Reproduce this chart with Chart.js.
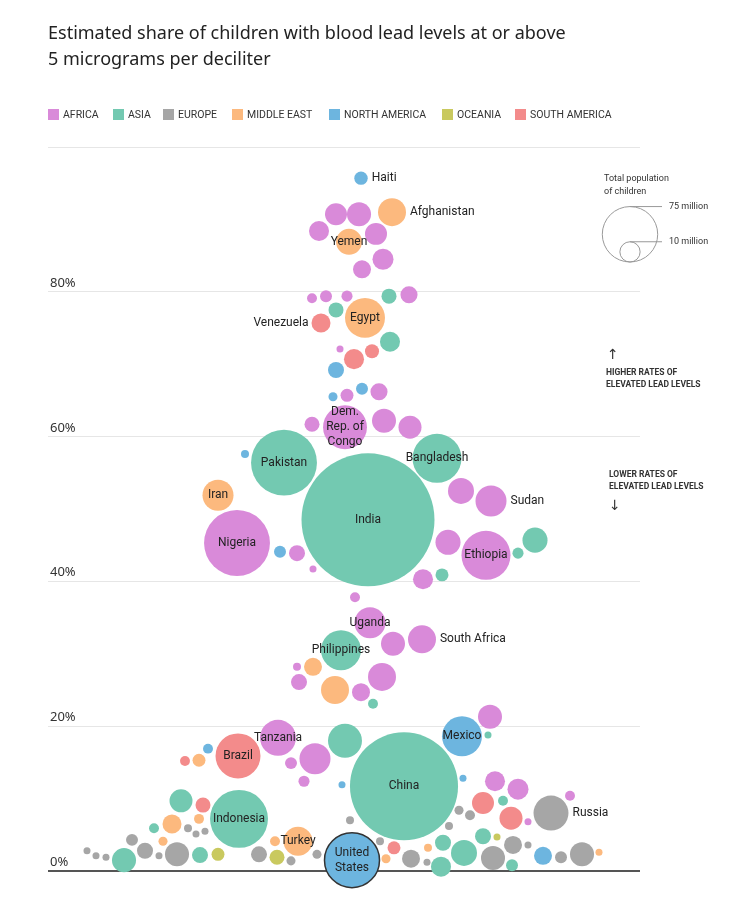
<!DOCTYPE html>
<html>
<head>
<meta charset="utf-8">
<script src="https://cdn.jsdelivr.net/npm/chart.js@4"></script>
<style>
  body { margin: 0; background: #fff; }
  canvas { display: block; }
</style>
</head>
<body>
<canvas id="leadChart" width="750" height="902"></canvas>
<script>
// each row: [country label ('' = unlabelled), swarm offset, share of children >= 5 ug/dL (%), children (millions)]
const africa = [
  ['', -32, 90.7, 11.8], ['', -9, 90.7, 14.1], ['', -49, 88.4, 9.8], ['', 8, 88.0, 11.8],
  ['', 15, 84.5, 10.8], ['', -6, 83.1, 7.9], ['', -56, 79.1, 2.4], ['', -42, 79.4, 3.5],
  ['', -21, 79.4, 3.0], ['', 41, 79.6, 7.1], ['', -28, 72.1, 1.2], ['', -21, 65.7, 4.1],
  ['', 11, 66.2, 7.1], ['', -56, 61.7, 5.5], ['Dem. Rep. of Congo', -23, 61.3, 47],
  ['', 16, 62.2, 14.1], ['', 42, 61.3, 12.9], ['', 93, 52.5, 16.5], ['Sudan', 123, 51.1, 23.5],
  ['Nigeria', -131, 45.3, 106], ['', -71, 43.9, 6.25], ['', -55, 41.7, 1.2], ['', 80, 45.4, 15.3],
  ['Ethiopia', 118, 43.6, 58.6], ['', 55, 40.3, 9.8], ['', -13, 37.8, 2.4], ['Uganda', 2, 34.3, 23.5],
  ['', 25, 31.4, 14.1], ['South Africa', 54, 32.0, 19.1], ['', -71, 28.2, 1.56], ['', -69, 26.1, 6.25],
  ['', 14, 26.8, 19.1], ['', -7, 24.7, 7.9], ['', 122, 21.3, 14.1], ['Tanzania', -90, 18.4, 31.6],
  ['', -53, 15.5, 23.5], ['', -77, 14.9, 3.5], ['', -64, 12.4, 3.0], ['', 127, 12.4, 9.8],
  ['', 150, 11.3, 10.8], ['', 202, 10.4, 2.4], ['', 160, 6.8, 1.2]
];
const asia = [
  ['', 21, 79.4, 5.5], ['', -32, 77.5, 5.5], ['', 22, 73.1, 9.8], ['Pakistan', -84, 56.4, 106],
  ['India', 0, 48.5, 432], ['Bangladesh', 69, 57.0, 58.6], ['', 150, 43.9, 3.0], ['', 167, 45.7, 15.3],
  ['', 74, 40.9, 4.1], ['Philippines', -27, 30.5, 39], ['', 5, 23.1, 2.4], ['', 120, 18.8, 1.2],
  ['', -23, 18.0, 28.2], ['China', 36, 11.7, 285], ['', -187, 9.7, 12.9], ['Indonesia', -129, 7.2, 82],
  ['', -214, 5.9, 2.4], ['', -244, 1.5, 14.1], ['', -168, 2.2, 6.25], ['', 135, 9.7, 2.4],
  ['', 115, 4.8, 6.25], ['', 75, 3.9, 6.25], ['', 96, 2.5, 16.5], ['', 73, 0.6, 9.8], ['', 144, 0.8, 3.5]
];
const europe = [
  ['Russia', 183, 8.0, 29.9], ['', -180, 5.9, 1.56], ['', -172, 5.1, 1.2], ['', -163, 5.5, 1.2],
  ['', -236, 4.3, 3.5], ['', -223, 2.8, 6.25], ['', -281, 2.8, 1.2], ['', -272, 2.1, 1.2],
  ['', -262, 1.9, 1.2], ['', -209, 2.1, 1.2], ['', -191, 2.3, 14.1], ['', -109, 2.3, 6.25],
  ['', -77, 1.4, 2.0], ['', -51, 2.3, 2.0], ['', -18, 7.0, 1.56], ['', 91, 8.4, 2.0],
  ['', 102, 7.7, 2.4], ['', 81, 6.2, 1.56], ['', 145, 3.6, 7.9], ['', 160, 3.6, 1.2],
  ['', 12, 4.1, 1.56], ['', 43, 1.7, 7.9], ['', 59, 1.2, 1.2], ['', 125, 1.8, 14.1],
  ['', 193, 1.9, 3.5], ['', 214, 2.3, 14.1]
];
const middleEast = [
  ['Afghanistan', 24, 91.0, 19.1], ['Yemen', -19, 86.9, 16.5], ['Egypt', -3, 76.4, 39],
  ['Iran', -150, 51.9, 23.5], ['', -55, 28.2, 7.9], ['', -33, 25.0, 19.1], ['', -169, 15.3, 4.1],
  ['', -196, 6.5, 8.8], ['', -169, 7.2, 2.4], ['', -205, 4.1, 2.0], ['', -93, 4.1, 2.4],
  ['Turkey', -70, 4.1, 20.5], ['', 60, 3.2, 1.56], ['', 18, 1.7, 2.0], ['', 231, 2.6, 1.2]
];
const northAmerica = [
  ['Haiti', -7, 95.7, 4.4], ['', -32, 69.2, 6.25], ['', -35, 65.5, 2.0], ['', -6, 66.6, 3.5],
  ['', -123, 57.6, 1.56], ['', -88, 44.1, 3.5], ['Mexico', 94, 18.6, 39], ['', -160, 16.9, 2.4],
  ['', -26, 11.9, 1.2], ['', 95, 12.8, 1.2], ['United States', -16, 1.5, 73.9], ['', 175, 2.1, 7.9]
];
const oceania = [
  ['', -150, 2.3, 4.1], ['', -91, 1.9, 5.5], ['', 129, 4.7, 1.2]
];
const southAmerica = [
  ['Venezuela', -47, 75.7, 8.8], ['', 4, 71.8, 4.8], ['', -14, 70.7, 9.8], ['Brazil', -130, 15.9, 49.4],
  ['', -183, 15.2, 2.4], ['', -165, 9.1, 5.5], ['', 115, 9.4, 11.8], ['', 143, 7.3, 12.9], ['', 26, 3.2, 4.1]
];

const regionNames = ['Africa', 'Asia', 'Europe', 'Middle East', 'North America', 'Oceania', 'South America'];
const regionRows = [africa, asia, europe, middleEast, northAmerica, oceania, southAmerica];
const yTicks = [0, 20, 40, 60, 80];
const sizeKey = [75, 10]; // millions of children

const regionColors = ['#d98ad9', '#73c9b1', '#a6a6a6', '#fcb97e', '#6db5df', '#c9c95f', '#f38b8b'];
const keyX = [48, 113, 163, 232, 329, 442, 515];
const rightLabels = ['Haiti', 'Afghanistan', 'Sudan', 'South Africa', 'Russia'];
const leftLabels = ['Venezuela'];
const splitLabels = { 'Dem. Rep. of Congo': ['Dem.', 'Rep. of', 'Congo'], 'United States': ['United', 'States'] };

const radiusFor = pop => 3.2 * Math.sqrt(pop);

const decor = {
  id: 'decor',
  beforeDraw(chart) {
    const c = chart.ctx;
    c.save();
    // title
    c.fillStyle = '#222';
    c.font = '18px "Noto Sans"';
    c.textBaseline = 'alphabetic';
    c.fillText('Estimated share of children with blood lead levels at or above', 48, 39);
    c.fillText('5 micrograms per deciliter', 48, 65);

    // region key
    c.font = '10.5px Roboto';
    c.textBaseline = 'middle';
    regionNames.forEach((name, i) => {
      c.fillStyle = regionColors[i];
      c.fillRect(keyX[i], 109, 11, 11);
      c.fillStyle = '#333';
      c.fillText(name.toUpperCase(), keyX[i] + 15, 115);
    });
    c.restore();
  },
  afterDraw(chart) {
    const c = chart.ctx;
    const y = chart.scales.y;
    c.save();
    // y tick labels, sitting on the grid lines
    c.fillStyle = '#333';
    c.font = '13px "Noto Sans"';
    c.textBaseline = 'alphabetic';
    yTicks.forEach(v => {
      c.fillText(v + '%', 50, y.getPixelForValue(v) - 5);
    });

    // size key
    c.font = '9px Roboto';
    c.fillText('Total population', 604, 181);
    c.fillText('of children', 604, 194);
    c.strokeStyle = '#999';
    c.lineWidth = 1;
    const bottom = 262;
    sizeKey.forEach(pop => {
      const r = radiusFor(pop);
      c.beginPath();
      c.arc(630, bottom - r, r, 0, Math.PI * 2);
      c.stroke();
      c.beginPath();
      c.moveTo(630, bottom - 2 * r);
      c.lineTo(662, bottom - 2 * r);
      c.stroke();
      c.textBaseline = 'middle';
      c.fillText(pop + ' million', 669, bottom - 2 * r);
    });

    // direction notes
    c.font = 'bold 8.5px Roboto';
    c.textBaseline = 'middle';
    c.fillText('HIGHER RATES OF', 606, 373);
    c.fillText('ELEVATED LEAD LEVELS', 606, 385);
    c.fillText('LOWER RATES OF', 609, 475);
    c.fillText('ELEVATED LEAD LEVELS', 609, 487);
    c.font = '14px "DejaVu Sans"';
    c.fillText('\u2191', 607, 355);
    c.fillText('\u2193', 609, 506);

    // country labels
    c.font = '12px Roboto';
    c.fillStyle = '#222';
    c.textBaseline = 'middle';
    chart.data.datasets.forEach((ds, i) => {
      const meta = chart.getDatasetMeta(i);
      meta.data.forEach((el, j) => {
        const name = ds.data[j].name;
        if (!name) return;
        const r = el.options.radius;
        if (rightLabels.includes(name)) {
          c.textAlign = 'left';
          c.fillText(name, el.x + r + 4, el.y);
        } else if (leftLabels.includes(name)) {
          c.textAlign = 'right';
          c.fillText(name, el.x - r - 3, el.y);
        } else {
          c.textAlign = 'center';
          const lines = splitLabels[name] || [name];
          const lh = 15;
          lines.forEach((line, k) => {
            c.fillText(line, el.x, el.y + (k - (lines.length - 1) / 2) * lh);
          });
        }
      });
    });
    c.restore();
  }
};

new Chart(document.getElementById('leadChart').getContext('2d'), {
  type: 'bubble',
  data: {
    datasets: regionRows.map((rows, i) => ({
      label: regionNames[i],
      data: rows.map(([name, x, share, pop]) => ({ x: x, y: share, r: radiusFor(pop), name: name })),
      backgroundColor: regionColors[i],
      borderColor: ctx => (ctx.raw && ctx.raw.name === 'United States') ? '#333' : regionColors[i],
      borderWidth: ctx => (ctx.raw && ctx.raw.name === 'United States') ? 1.5 : 0,
      clip: false
    }))
  },
  options: {
    responsive: false,
    animation: false,
    layout: { autoPadding: false, padding: { left: 48, right: 110, top: 147, bottom: 31 } },
    plugins: {
      legend: { display: false },
      tooltip: { enabled: false }
    },
    scales: {
      x: { type: 'linear', min: -320, max: 272, display: false },
      y: {
        min: 0,
        max: 100,
        ticks: { stepSize: 20, display: false },
        border: { display: false },
        grid: {
          drawTicks: false,
          color: ctx => ctx.tick.value === 0 ? '#555' : '#e6e6e6',
          lineWidth: ctx => ctx.tick.value === 0 ? 2 : 1
        }
      }
    }
  },
  plugins: [decor]
});
</script>
</body>
</html>
